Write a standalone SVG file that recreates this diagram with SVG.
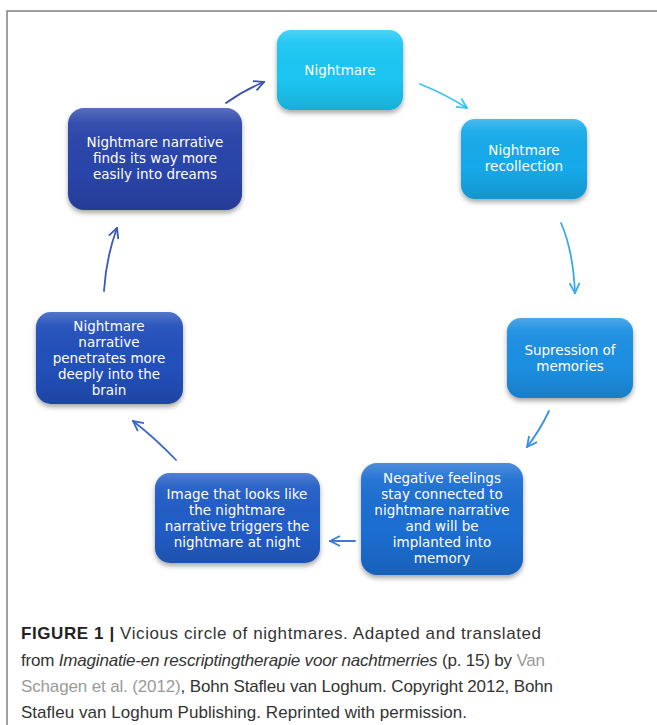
<svg xmlns="http://www.w3.org/2000/svg" width="657" height="725" viewBox="0 0 657 725">
<style>
.frame{fill:none;stroke:#808080;stroke-width:1.5}
.box{filter:url(#sh)}
.gloss{fill:url(#gl)}
.lbl{font-family:"DejaVu Sans",sans-serif;font-size:13.5px;fill:#fff;text-anchor:middle}
.arr{fill:none;stroke-width:1.8;stroke-linecap:round}
.cap{font-family:"Liberation Sans",Arial,sans-serif;font-size:17px;fill:#333}
.b{font-weight:bold;fill:#222}
.lnk{fill:#9a9a9a}
</style>
<defs>
<linearGradient id="gl" x1="0" y1="0" x2="0" y2="1">
<stop offset="0" stop-color="#fff" stop-opacity="0.22"/>
<stop offset="0.15" stop-color="#fff" stop-opacity="0.05"/>
<stop offset="0.6" stop-color="#000" stop-opacity="0"/>
<stop offset="1" stop-color="#000" stop-opacity="0.12"/>
</linearGradient>
<filter id="sh" x="-10%" y="-10%" width="120%" height="130%">
<feDropShadow dx="0" dy="3" stdDeviation="2.5" flood-color="#000" flood-opacity="0.35"/>
</filter>
<marker id="m1" viewBox="0 0 12 12" refX="11" refY="6" markerWidth="12" markerHeight="12" markerUnits="userSpaceOnUse" orient="auto"><path d="M1,1 L11,6 L1,11" fill="none" stroke="#3b52aa" stroke-width="1.8"/></marker>
<marker id="m2" viewBox="0 0 12 12" refX="11" refY="6" markerWidth="12" markerHeight="12" markerUnits="userSpaceOnUse" orient="auto"><path d="M1,1 L11,6 L1,11" fill="none" stroke="#3cc4f0" stroke-width="1.8"/></marker>
<marker id="m3" viewBox="0 0 12 12" refX="11" refY="6" markerWidth="12" markerHeight="12" markerUnits="userSpaceOnUse" orient="auto"><path d="M1,1 L11,6 L1,11" fill="none" stroke="#36aaec" stroke-width="1.8"/></marker>
<marker id="m4" viewBox="0 0 12 12" refX="11" refY="6" markerWidth="12" markerHeight="12" markerUnits="userSpaceOnUse" orient="auto"><path d="M1,1 L11,6 L1,11" fill="none" stroke="#3a90e2" stroke-width="1.8"/></marker>
<marker id="m5" viewBox="0 0 12 12" refX="11" refY="6" markerWidth="12" markerHeight="12" markerUnits="userSpaceOnUse" orient="auto"><path d="M1,1 L11,6 L1,11" fill="none" stroke="#3a7ad8" stroke-width="1.8"/></marker>
<marker id="m6" viewBox="0 0 12 12" refX="11" refY="6" markerWidth="12" markerHeight="12" markerUnits="userSpaceOnUse" orient="auto"><path d="M1,1 L11,6 L1,11" fill="none" stroke="#3a68c8" stroke-width="1.8"/></marker>
<marker id="m7" viewBox="0 0 12 12" refX="11" refY="6" markerWidth="12" markerHeight="12" markerUnits="userSpaceOnUse" orient="auto"><path d="M1,1 L11,6 L1,11" fill="none" stroke="#3a58b8" stroke-width="1.8"/></marker>
</defs>
<rect width="657" height="725" fill="#fff"/>
<path class="frame" d="M7,725 V11 H657"/>
<g id="connectors">
<path class="arr" stroke="#3b52aa" marker-end="url(#m1)" d="M226,103 Q244,90 264,82"/>
<path class="arr" stroke="#3cc4f0" marker-end="url(#m2)" d="M420,84 Q445,94 467,108"/>
<path class="arr" stroke="#36aaec" marker-end="url(#m3)" d="M561,223 Q573,250 575,293"/>
<path class="arr" stroke="#3a90e2" marker-end="url(#m4)" d="M549,411 Q540,430 527,447"/>
<path class="arr" stroke="#3a7ad8" marker-end="url(#m5)" d="M355,541 L330,541"/>
<path class="arr" stroke="#3a68c8" marker-end="url(#m6)" d="M176,460 Q155,438 133,421"/>
<path class="arr" stroke="#3a58b8" marker-end="url(#m7)" d="M104,291 Q106,258 117,228"/>
</g>
<g id="n1">
<rect class="box" x="277" y="30" width="126" height="80" rx="14" fill="#1bc6f3"/>
<rect class="gloss" x="277" y="30" width="126" height="80" rx="14"/>
<text class="lbl" x="340" y="75">Nightmare</text>
</g>
<g id="n2">
<rect class="box" x="461" y="119" width="126" height="80" rx="14" fill="#18aaea"/>
<rect class="gloss" x="461" y="119" width="126" height="80" rx="14"/>
<text class="lbl" x="524" y="155">Nightmare</text>
<text class="lbl" x="524" y="171">recollection</text>
</g>
<g id="n3">
<rect class="box" x="507" y="318" width="126" height="80" rx="14" fill="#1b8fe2"/>
<rect class="gloss" x="507" y="318" width="126" height="80" rx="14"/>
<text class="lbl" x="570" y="355">Supression of</text>
<text class="lbl" x="570" y="371">memories</text>
</g>
<g id="n4">
<rect class="box" x="361" y="463" width="162" height="112" rx="16" fill="#1d6ed2"/>
<rect class="gloss" x="361" y="463" width="162" height="112" rx="16"/>
<text class="lbl" x="442" y="483">Negative feelings</text>
<text class="lbl" x="442" y="499">stay connected to</text>
<text class="lbl" x="442" y="515">nightmare narrative</text>
<text class="lbl" x="442" y="531">and will be</text>
<text class="lbl" x="442" y="547">implanted into</text>
<text class="lbl" x="442" y="563">memory</text>
</g>
<g id="n5">
<rect class="box" x="155" y="473" width="165" height="90" rx="15" fill="#215dc6"/>
<rect class="gloss" x="155" y="473" width="165" height="90" rx="15"/>
<text class="lbl" x="237" y="499">Image that looks like</text>
<text class="lbl" x="237" y="515">the nightmare</text>
<text class="lbl" x="237" y="531">narrative triggers the</text>
<text class="lbl" x="237" y="547">nightmare at night</text>
</g>
<g id="n6">
<rect class="box" x="36" y="312" width="147" height="92" rx="15" fill="#244fba"/>
<rect class="gloss" x="36" y="312" width="147" height="92" rx="15"/>
<text class="lbl" x="109" y="331">Nightmare</text>
<text class="lbl" x="109" y="347">narrative</text>
<text class="lbl" x="109" y="363">penetrates more</text>
<text class="lbl" x="109" y="379">deeply into the</text>
<text class="lbl" x="109" y="395">brain</text>
</g>
<g id="n7">
<rect class="box" x="68" y="108" width="174" height="102" rx="16" fill="#2944aa"/>
<rect class="gloss" x="68" y="108" width="174" height="102" rx="16"/>
<text class="lbl" x="155" y="147">Nightmare narrative</text>
<text class="lbl" x="155" y="163">finds its way more</text>
<text class="lbl" x="155" y="179">easily into dreams</text>
</g>
<g id="caption">
<text class="cap" x="21" y="639" textLength="520" lengthAdjust="spacing"><tspan class="b">FIGURE 1 |</tspan> Vicious circle of nightmares. Adapted and translated</text>
<text class="cap" x="21" y="666" textLength="524" lengthAdjust="spacing">from <tspan font-style="italic">Imaginatie-en rescriptingtherapie voor nachtmerries</tspan> (p. 15) by <tspan class="lnk">Van</tspan></text>
<text class="cap" x="21" y="692" textLength="532" lengthAdjust="spacing"><tspan class="lnk">Schagen et al. (2012)</tspan>, Bohn Stafleu van Loghum. Copyright 2012, Bohn</text>
<text class="cap" x="21" y="718" textLength="446" lengthAdjust="spacing">Stafleu van Loghum Publishing. Reprinted with permission.</text>
</g>
</svg>
